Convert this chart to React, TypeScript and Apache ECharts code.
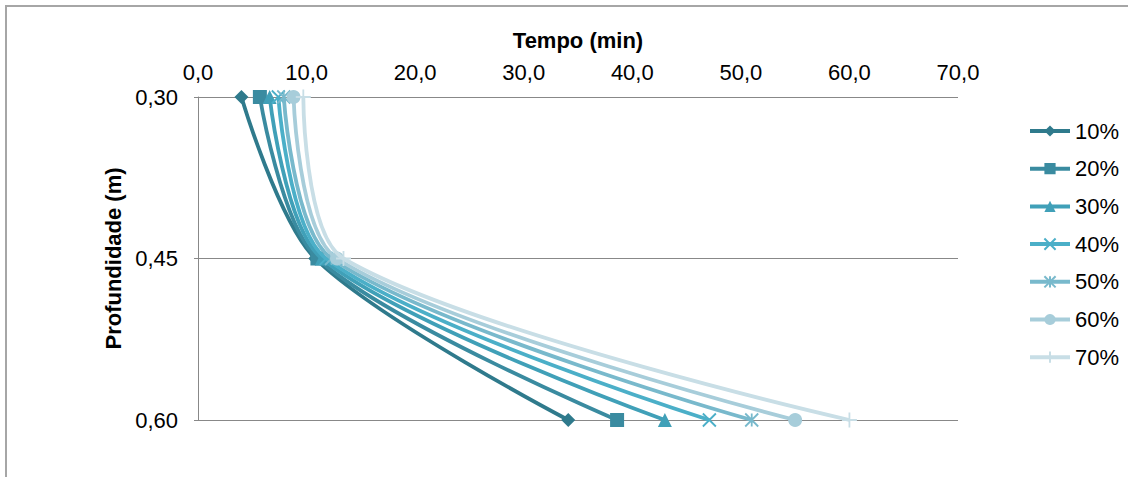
import React, { useEffect, useRef } from "react";
import * as echarts from "echarts";

const seriesNames = ["10%", "20%", "30%", "40%", "50%", "60%", "70%"];
const depths = [0.3, 0.45, 0.6];
const times10 = [4.0, 10.8, 34.1];
const times20 = [5.7, 11.0, 38.6];
const times30 = [6.6, 11.4, 43.0];
const times40 = [7.4, 11.8, 47.1];
const times50 = [7.9, 12.3, 51.0];
const times60 = [8.8, 12.8, 55.0];
const times70 = [9.7, 13.4, 60.0];
const allTimes = [times10, times20, times30, times40, times50, times60, times70];

const colors = ["#2F7A8C", "#3A8BA0", "#40A0B8", "#4BAFC8", "#78B9CC", "#A7CDDA", "#C8DEE6"];
const symbols = [
  "diamond",
  "rect",
  "triangle",
  "path://M0,0L10,10M0,10L10,0",
  "path://M0,0L10,10M0,10L10,0M5,0L5,10",
  "circle",
  "path://M5,0L5,10M0,5L10,5",
];
const symbolSizes = [14, 14, 14, 13, 13, 14, 15];

const fmt = (v: number, d: number) => v.toFixed(d).replace(".", ",");

export default function App() {
  const ref = useRef<HTMLDivElement>(null);
  useEffect(() => {
    if (!ref.current) return;
    const chart = echarts.init(ref.current, null, { renderer: "svg" });
    const font = "'Liberation Sans', Arial, sans-serif";
    chart.setOption({
      animation: false,
      backgroundColor: "#ffffff",
      textStyle: { fontFamily: font },
      graphic: [
        {
          type: "rect",
          shape: { x: 6, y: 6, width: 1300, height: 700 },
          style: { fill: "none", stroke: "#A6A6A6", lineWidth: 2 },
          silent: true,
        },
      ],
      grid: { left: 198, right: 170, top: 97, bottom: 57 },
      xAxis: {
        type: "value",
        position: "top",
        min: 0,
        max: 70,
        interval: 10,
        name: "Tempo (min)",
        nameLocation: "middle",
        nameGap: 46,
        nameTextStyle: { fontSize: 22, fontWeight: "bold", color: "#000", fontFamily: font },
        axisLine: { show: false },
        axisTick: { show: false },
        splitLine: { show: false },
        axisLabel: {
          fontSize: 22,
          color: "#000",
          margin: 14,
          fontFamily: font,
          formatter: (v: number) => fmt(v, 1),
        },
      },
      yAxis: {
        type: "value",
        inverse: true,
        min: 0.3,
        max: 0.6,
        interval: 0.15,
        name: "Profundidade (m)",
        nameLocation: "middle",
        nameGap: 69,
        nameTextStyle: { fontSize: 22, fontWeight: "bold", color: "#000", fontFamily: font },
        axisLine: { show: true, lineStyle: { color: "#888888", width: 1 } },
        axisTick: { show: true, length: 4, lineStyle: { color: "#888888" } },
        splitLine: { show: true, lineStyle: { color: "#888888", width: 1 } },
        axisLabel: {
          fontSize: 22,
          color: "#000",
          margin: 20,
          fontFamily: font,
          formatter: (v: number) => fmt(v, 2),
        },
      },
      legend: {
        orient: "vertical",
        left: 1028,
        top: 120,
        padding: 0,
        itemWidth: 40,
        itemHeight: 14,
        itemGap: 15.7,
        lineStyle: { width: 4 },
        textStyle: { fontSize: 22, color: "#000", fontFamily: font },
        data: seriesNames,
      },
      series: seriesNames.map((name, i) => ({
        name,
        type: "line",
        smooth: 0.3,
        data: allTimes[i].map((t, j) => [t, depths[j]]),
        symbol: symbols[i],
        symbolSize: symbolSizes[i],
        lineStyle: { color: colors[i], width: 3.8 },
        itemStyle: { color: colors[i], borderColor: colors[i], borderWidth: i === 3 || i === 4 || i === 6 ? 1.8 : 0 },
        z: 2 + i,
      })),
    });
    return () => chart.dispose();
  }, []);
  return (
    <div
      ref={ref}
      style={{ position: "fixed", left: 0, top: 0, width: 1128, height: 477 }}
    />
  );
}
